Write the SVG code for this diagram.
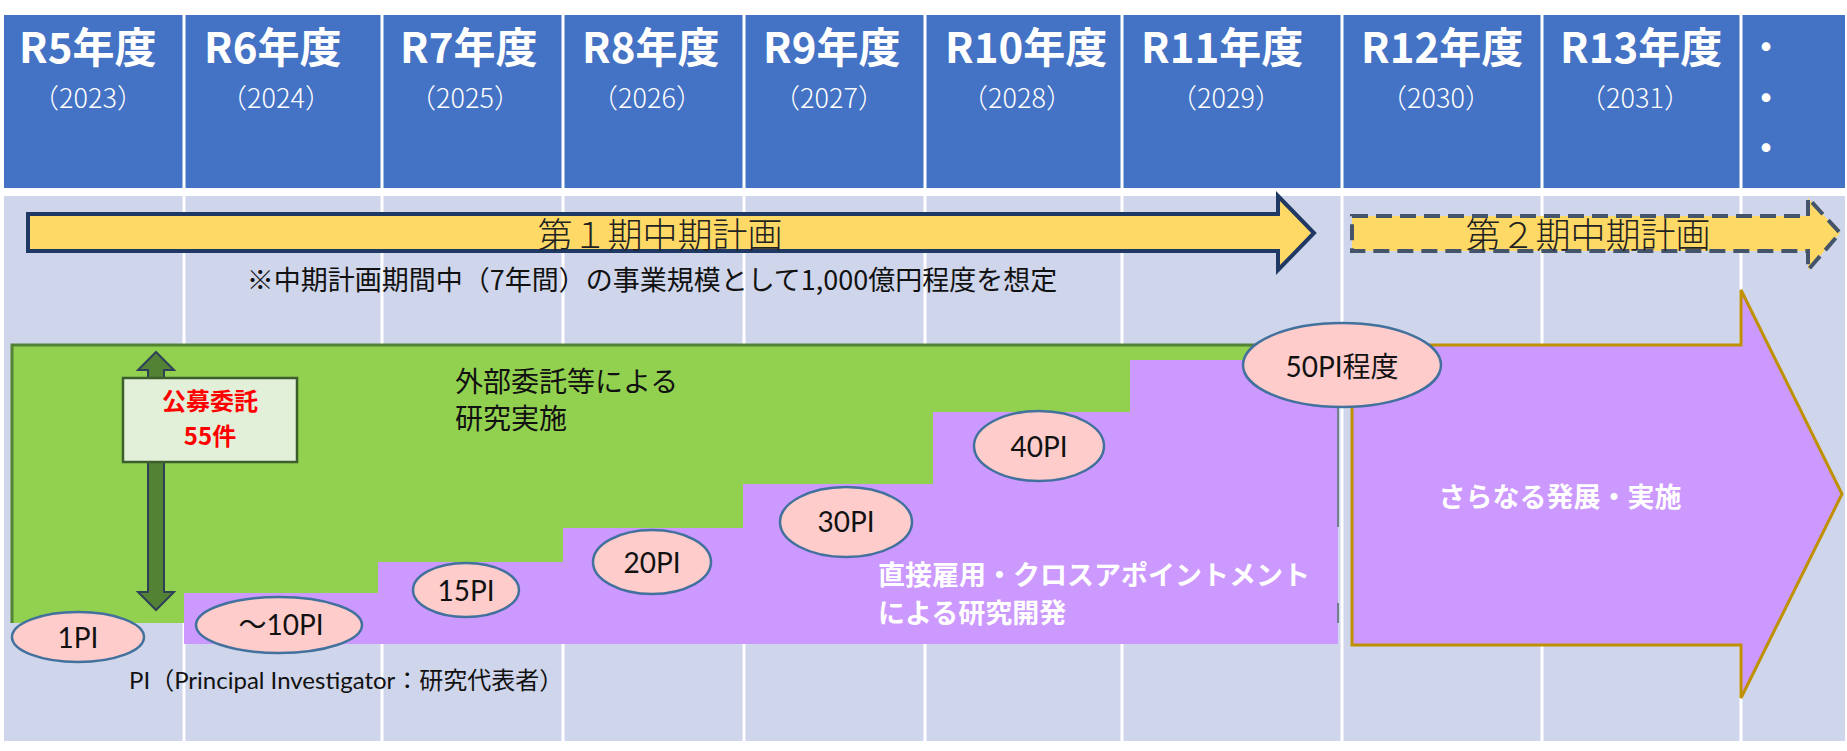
<svg xmlns="http://www.w3.org/2000/svg" width="1847" height="751" viewBox="0 0 1847 751">
<style>
.hd{font-family:"Noto Sans CJK JP","Noto Sans",sans-serif;font-weight:700;font-size:42px;fill:#fff}
.yr{font-family:"Noto Sans CJK JP","Noto Sans",sans-serif;font-weight:300;font-size:27px;fill:#fff;text-anchor:middle}
.dot{font-family:"Noto Sans CJK JP",sans-serif;font-weight:700;font-size:34px;fill:#fff;text-anchor:middle}
.plan{font-family:"Noto Sans CJK JP",sans-serif;font-weight:300;font-size:35px;fill:#222;text-anchor:middle}
.note{font-family:"Noto Sans CJK JP",sans-serif;font-size:27px;fill:#111;text-anchor:middle}
.blk{font-family:"Noto Sans CJK JP",sans-serif;font-size:28px;fill:#111}
.wht{font-family:"Noto Sans CJK JP",sans-serif;font-weight:700;font-size:27px;fill:#fff}
.red{font-family:"Noto Sans CJK JP",sans-serif;font-weight:700;font-size:24px;fill:#FF0000;text-anchor:middle}
.pi{font-family:Lato,"Noto Sans CJK JP",sans-serif;font-size:28px;fill:#111;text-anchor:middle}
.foot{font-family:Lato,"Noto Sans CJK JP",sans-serif;font-size:24px;fill:#111}
.ell{fill:#FFCCCC;stroke:#41719C;stroke-width:2.5}
.grid{stroke:#fff;stroke-width:3}
</style>
<rect width="1847" height="751" fill="#fff"/>
<g id="table">
<rect x="4" y="15" width="1841" height="173" fill="#4472C4"/>
<rect x="4" y="196" width="1841" height="545" fill="#CFD5EA"/>
<g class="grid">
<line x1="184" y1="15" x2="184" y2="741"/>
<line x1="382" y1="15" x2="382" y2="741"/>
<line x1="563" y1="15" x2="563" y2="741"/>
<line x1="744" y1="15" x2="744" y2="741"/>
<line x1="925" y1="15" x2="925" y2="741"/>
<line x1="1122" y1="15" x2="1122" y2="741"/>
<line x1="1342" y1="15" x2="1342" y2="741"/>
<line x1="1542" y1="15" x2="1542" y2="741"/>
<line x1="1741" y1="15" x2="1741" y2="741"/>
</g>
</g>
<g id="header-texts">
<text class="hd" x="19" y="63">R5年度</text><text class="yr" x="88" y="108">（2023）</text>
<text class="hd" x="204" y="63">R6年度</text><text class="yr" x="276" y="108">（2024）</text>
<text class="hd" x="400" y="63">R7年度</text><text class="yr" x="465" y="108">（2025）</text>
<text class="hd" x="582" y="63">R8年度</text><text class="yr" x="647" y="108">（2026）</text>
<text class="hd" x="763" y="63">R9年度</text><text class="yr" x="829" y="108">（2027）</text>
<text class="hd" x="945" y="63">R10年度</text><text class="yr" x="1017" y="108">（2028）</text>
<text class="hd" x="1141" y="63">R11年度</text><text class="yr" x="1226" y="108">（2029）</text>
<text class="hd" x="1361" y="63">R12年度</text><text class="yr" x="1436" y="108">（2030）</text>
<text class="hd" x="1560" y="63">R13年度</text><text class="yr" x="1635" y="108">（2031）</text>
<text class="dot" x="1766" y="60">・</text>
<text class="dot" x="1766" y="111">・</text>
<text class="dot" x="1766" y="161">・</text>
</g>
<g id="plan1">
<polygon points="28,214 1278,214 1278,196 1314,233 1278,270 1278,251 28,251" fill="#FFD966" stroke="#1F3864" stroke-width="4" stroke-linejoin="miter"/>
<text class="plan" x="660" y="248">第１期中期計画</text>
</g>
<g id="plan2">
<polygon points="1352,216 1808,216 1808,198 1840,233 1808,270 1808,251 1352,251" fill="#FFD966" stroke="#44546A" stroke-width="4" stroke-dasharray="16 8"/>
<text class="plan" x="1588" y="248">第２期中期計画</text>
</g>
<g id="note">
<text class="note" x="652" y="290">※中期計画期間中（7年間）の事業規模として1,000億円程度を想定</text>
</g>
<g id="external">
<rect x="12" y="345" width="1326" height="278" fill="#92D050"/>
<polyline points="1338,345 12,345 12,623" fill="none" stroke="#548235" stroke-width="3"/>
<text class="blk" x="455" y="392">外部委託等による</text>
<text class="blk" x="455" y="429">研究実施</text>
</g>
<g id="direct">
<polygon points="184,593 378,593 378,562 563,562 563,528 743,528 743,484 933,484 933,412 1130,412 1130,360 1338,360 1338,644 184,644" fill="#CC99FF"/>
<line x1="1338" y1="408" x2="1338" y2="527" stroke="#6F7F8F" stroke-width="2"/>
<line x1="1338" y1="603" x2="1338" y2="623" stroke="#6F7F8F" stroke-width="2"/>
<text class="wht" x="878" y="585">直接雇用・クロスアポイントメント</text>
<text class="wht" x="878" y="623">による研究開発</text>
</g>
<g id="future">
<polygon points="1352,345 1741,345 1741,290 1842,494 1741,698 1741,645 1352,645" fill="#CC99FF" stroke="#BF9000" stroke-width="3"/>
<text class="wht" x="1560" y="507" style="text-anchor:middle">さらなる発展・実施</text>
</g>
<g id="connectors">
<polygon points="156,352 174,370 164,370 164,592 174,592 156,610 138,592 148,592 148,370 138,370" fill="#548235" stroke="#2E4057" stroke-width="2"/>
</g>
<g id="koubo">
<rect x="123" y="378" width="174" height="84" fill="#E2F0D9" stroke="#3B5E2B" stroke-width="2.5"/>
<text class="red" x="210" y="410">公募委託</text>
<text class="red" x="210" y="445">55件</text>
</g>
<g id="pi1"><ellipse class="ell" cx="78" cy="637" rx="66" ry="25"/><text class="pi" x="78" y="648">1PI</text></g>
<g id="pi10"><ellipse class="ell" cx="279" cy="625" rx="83" ry="28"/><text class="pi" x="281" y="635">～10PI</text></g>
<g id="pi15"><ellipse class="ell" cx="466" cy="590" rx="53" ry="27"/><text class="pi" x="466" y="601">15PI</text></g>
<g id="pi20"><ellipse class="ell" cx="652" cy="562" rx="59" ry="32"/><text class="pi" x="652" y="573">20PI</text></g>
<g id="pi30"><ellipse class="ell" cx="846" cy="522" rx="66" ry="35"/><text class="pi" x="846" y="532">30PI</text></g>
<g id="pi40"><ellipse class="ell" cx="1039" cy="446" rx="65" ry="35"/><text class="pi" x="1039" y="457">40PI</text></g>
<g id="pi50"><ellipse class="ell" cx="1342" cy="365" rx="99" ry="42"/><text class="pi" x="1342" y="377">50PI程度</text></g>
<g id="footnote">
<text class="foot" x="129" y="689">PI（Principal Investigator：研究代表者）</text>
</g>
</svg>
